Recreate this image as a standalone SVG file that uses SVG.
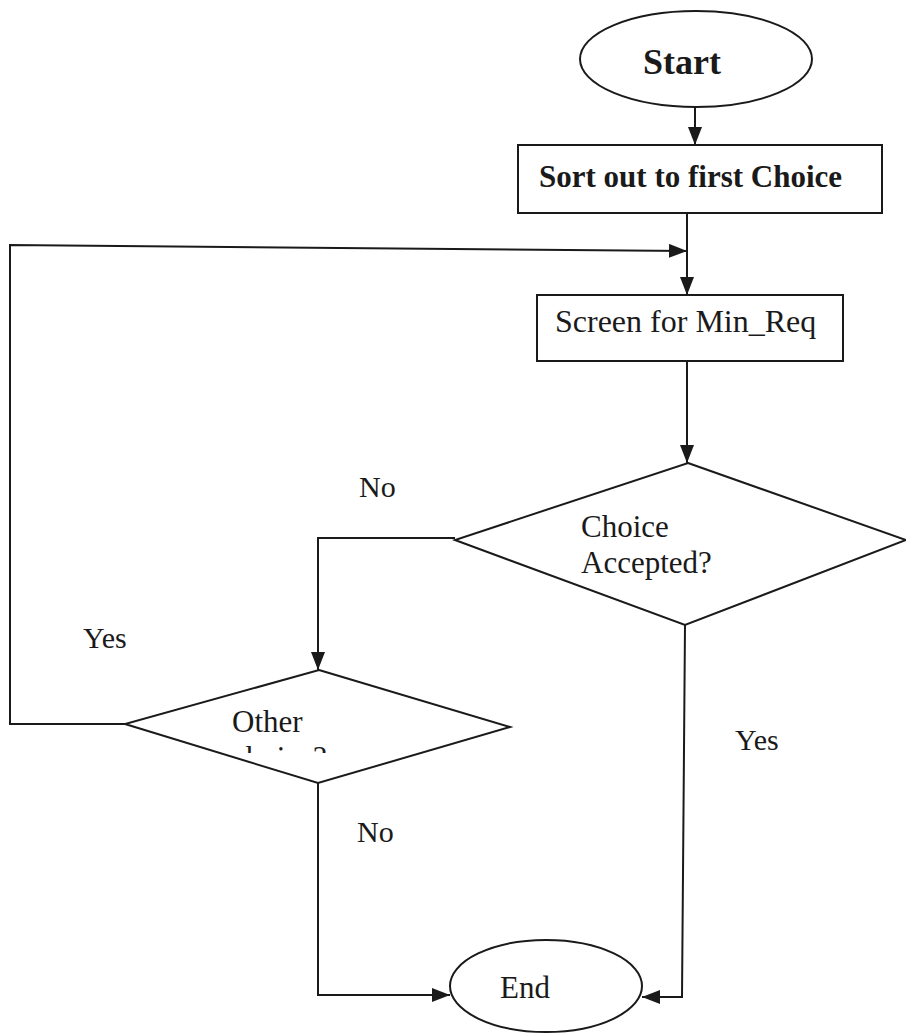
<svg xmlns="http://www.w3.org/2000/svg" width="906" height="1033" viewBox="0 0 906 1033">
  <style>
    .shape { fill: #ffffff; stroke: #1a1a1a; stroke-width: 2; }
    .wire { fill: none; stroke: #1a1a1a; stroke-width: 2; }
    .txt { font-family: "Liberation Serif", "Times New Roman", serif; fill: #1a1a1a; }
    .bold { font-weight: bold; }
  </style>
  <defs>
    <marker id="arrow" viewBox="0 0 18 14" refX="18" refY="7" markerWidth="18" markerHeight="14" markerUnits="userSpaceOnUse" orient="auto">
      <path d="M0,0 L18,7 L0,14 Z" fill="#1a1a1a"/>
    </marker>
    <clipPath id="clipOther">
      <rect x="200" y="700" width="200" height="53"/>
    </clipPath>
  </defs>
  <rect width="906" height="1033" fill="#ffffff"/>

  <g id="connectors">
    <line class="wire" x1="695" y1="107" x2="695" y2="145" marker-end="url(#arrow)"/>
    <line class="wire" x1="687" y1="213" x2="687" y2="295" marker-end="url(#arrow)"/>
    <polyline class="wire" points="125,724 10,724 10,245 687,251" marker-end="url(#arrow)"/>
    <line class="wire" x1="687" y1="361" x2="687" y2="463" marker-end="url(#arrow)"/>
    <polyline class="wire" points="455,538 318,538 318,670" marker-end="url(#arrow)"/>
    <polyline class="wire" points="318,783 318,995 450,995" marker-end="url(#arrow)"/>
    <polyline class="wire" points="685,625 682,997 642,997" marker-end="url(#arrow)"/>
  </g>

  <g id="labels">
    <text class="txt" x="359" y="497" font-size="30">No</text>
    <text class="txt" x="83" y="648" font-size="30">Yes</text>
    <text class="txt" x="735" y="750" font-size="30">Yes</text>
    <text class="txt" x="357" y="842" font-size="30">No</text>
  </g>

  <g id="start">
    <ellipse class="shape" cx="696" cy="59" rx="116" ry="48"/>
    <text class="txt bold" x="682" y="74" font-size="36" text-anchor="middle">Start</text>
  </g>

  <g id="sort">
    <rect class="shape" x="518" y="145" width="364" height="68"/>
    <text class="txt bold" x="539" y="187" font-size="31">Sort out to first Choice</text>
  </g>

  <g id="screen">
    <rect class="shape" x="537" y="295" width="306" height="66"/>
    <text class="txt" x="555" y="332" font-size="32">Screen for Min_Req</text>
  </g>

  <g id="accepted">
    <polygon class="shape" points="688,463 906,540 685,625 455,540"/>
    <text class="txt" x="581" y="537" font-size="31">Choice</text>
    <text class="txt" x="581" y="573" font-size="31">Accepted?</text>
  </g>

  <g id="other">
    <polygon class="shape" points="319,670 510,727 318,783 125,724"/>
    <g clip-path="url(#clipOther)">
      <text class="txt" x="232" y="732" font-size="31">Other</text>
      <text class="txt" x="232" y="768" font-size="31">choice?</text>
    </g>
  </g>

  <g id="end">
    <ellipse class="shape" cx="546" cy="986" rx="96" ry="46"/>
    <text class="txt" x="500" y="998" font-size="31">End</text>
  </g>
</svg>
